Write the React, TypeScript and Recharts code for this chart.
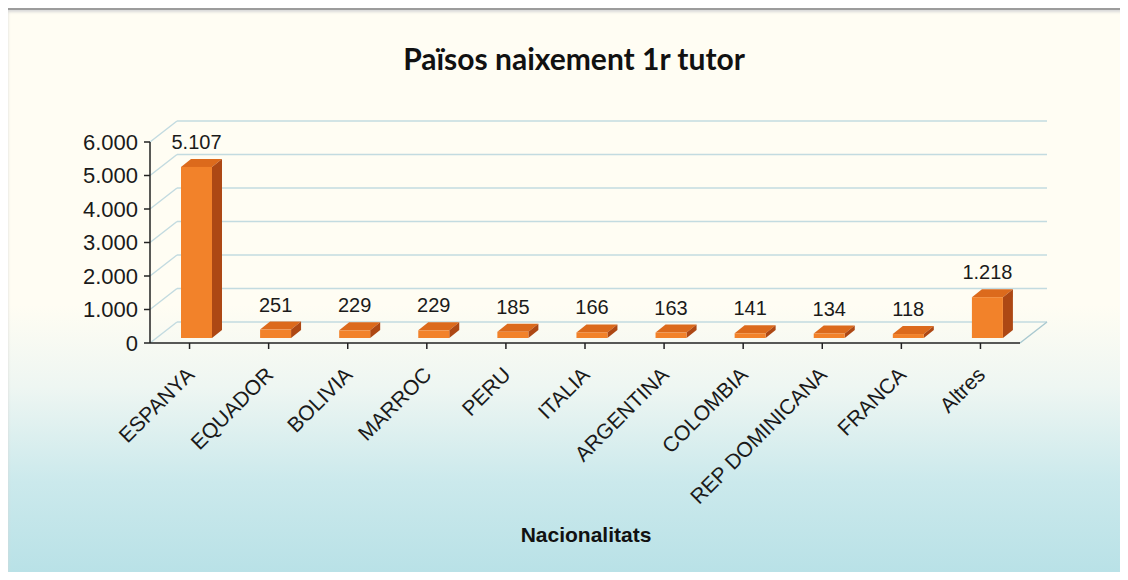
import { Bar, BarChart, CartesianGrid, LabelList, XAxis, YAxis } from "recharts";

const countries = [
    "ESPANYA", "EQUADOR", "BOLIVIA", "MARROC", "PERU", "ITALIA",
    "ARGENTINA", "COLOMBIA", "REP DOMINICANA", "FRANCA", "Altres",
];
const tutors = [5107, 251, 229, 229, 185, 166, 163, 141, 134, 118, 1218];
const yTicks = [0, 1000, 2000, 3000, 4000, 5000, 6000];

const data = countries.map((c, i) => ({ country: c, value: tutors[i] }));

// fake 3D: bar shift and depth, back wall shift
const SHIFT_X = 7;
const SHIFT_Y = -5;
const DEPTH_X = 10;
const DEPTH_Y = 8;
const WALL_X = 27;
const WALL_Y = -21;

const font = "'Liberation Sans', Arial, sans-serif";

const fmt = (v: number) => String(v).replace(/\B(?=(\d{3})+(?!\d))/g, ".");

function Bar3D(props: any) {
    const { x, y, width, height } = props;
    const fx = x + SHIFT_X;
    const fy = y + SHIFT_Y;
    return (
        <g>
            <polygon
                points={`${fx},${fy} ${fx + DEPTH_X},${fy - DEPTH_Y} ${fx + width + DEPTH_X},${fy - DEPTH_Y} ${fx + width},${fy}`}
                fill="#dc6a1c" />
            <polygon
                points={`${fx + width},${fy} ${fx + width + DEPTH_X},${fy - DEPTH_Y} ${fx + width + DEPTH_X},${fy + height - DEPTH_Y} ${fx + width},${fy + height}`}
                fill="#ad4814" />
            <rect x={fx} y={fy} width={width} height={height} fill="#f2822a" />
        </g>
    );
}

function GridLine(props: any) {
    const { x1, y1, x2, y2, index } = props;
    return (
        <g key={`grid-${index}`}>
            <line x1={x1 + WALL_X} y1={y1 + WALL_Y} x2={x2 + WALL_X} y2={y2 + WALL_Y} stroke="#c3dbe0" strokeWidth={1.5} />
            <line x1={x1} y1={y1} x2={x1 + WALL_X} y2={y1 + WALL_Y} stroke="#c3dbe0" strokeWidth={1.5} />
            {Math.abs(y1 - 343) < 2 && (
                <line x1={x2} y1={y2} x2={x2 + WALL_X} y2={y2 + WALL_Y} stroke="#a9c9d0" strokeWidth={1.5} />
            )}
        </g>
    );
}

function XTick(props: any) {
    const { x, y, payload } = props;
    const tx = x + 6;
    const ty = y + 25;
    return (
        <text
            x={tx}
            y={ty}
            transform={`rotate(-45 ${tx} ${ty})`}
            textAnchor="end"
            fontSize={21}
            fontFamily={font}
            fill="#1a1a1a">
            {payload.value}
        </text>
    );
}

function ValueLabel(props: any) {
    const { x, y, width, value } = props;
    return (
        <text
            x={x + width / 2 + SHIFT_X}
            y={y + SHIFT_Y - 18}
            textAnchor="middle"
            fontSize={20}
            fontFamily={font}
            fill="#1a1a1a">
            {fmt(value)}
        </text>
    );
}

export default function App() {
    return (
        <div style={{ position: "relative", margin: -8, width: 1128, height: 580, overflow: "hidden", background: "#fff" }}>
            <div
                style={{
                    position: "absolute",
                    left: 3,
                    top: 7,
                    width: 1140,
                    height: 590,
                    borderTop: "3px solid #9c9c9c",
                    borderLeft: "3px solid #9c9c9c",
                    boxShadow: "inset 2px 2px 3px #d8d8d8",
                    background:
                        "linear-gradient(to bottom, #fffdf3 0%, #fffdf3 50%, #eef6f2 64%, #cbe9ec 80%, #b3dfe5 100%)",
                }} />
            <div
                style={{
                    position: "absolute",
                    left: 0,
                    top: 40,
                    width: 1148,
                    textAlign: "center",
                    fontFamily: "Lato, sans-serif",
                    fontWeight: 700,
                    fontSize: 30,
                    lineHeight: "36px",
                    color: "#111",
                }}>
                Països naixement 1r tutor
            </div>
            <div
                style={{
                    position: "absolute",
                    left: 0,
                    top: 523,
                    width: 1172,
                    textAlign: "center",
                    fontFamily: font,
                    fontWeight: 700,
                    fontSize: 21,
                    lineHeight: "24px",
                    color: "#111",
                }}>
                Nacionalitats
            </div>
            <div style={{ position: "absolute", left: 0, top: 0 }}>
                <BarChart
                    width={1128}
                    height={580}
                    data={data}
                    barSize={31}
                    margin={{ top: 142, right: 108, left: 90, bottom: 207 }}>
                    <CartesianGrid vertical={false} horizontal={GridLine} />
                    <XAxis
                        dataKey="country"
                        interval={0}
                        height={30}
                        tick={<XTick />}
                        tickSize={6}
                        axisLine={{ stroke: "#222", strokeWidth: 1.5 }}
                        tickLine={{ stroke: "#222", strokeWidth: 1.5 }} />
                    <YAxis
                        width={60}
                        domain={[0, 6000]}
                        ticks={yTicks}
                        tickFormatter={fmt}
                        tickSize={6}
                        tickMargin={6}
                        tick={{ fill: "#1a1a1a", fontSize: 22, fontFamily: font }}
                        axisLine={{ stroke: "#222", strokeWidth: 1.5 }}
                        tickLine={{ stroke: "#222", strokeWidth: 1.5 }} />
                    <Bar dataKey="value" shape={<Bar3D />} isAnimationActive={false}>
                        <LabelList dataKey="value" content={<ValueLabel />} />
                    </Bar>
                </BarChart>
            </div>
        </div>
    );
}
